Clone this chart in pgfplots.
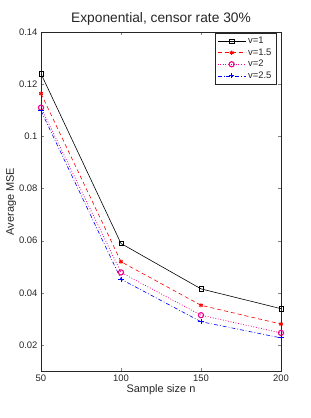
\documentclass[border=0pt]{standalone}
\usepackage{pgfplots}
\pgfplotsset{compat=1.18}
\usepackage{fontspec}
\setmainfont{Liberation Sans}
\begin{document}
\begin{tikzpicture}
\useasboundingbox (-41bp,-47bp) rectangle (270bp,371bp);
\begin{axis}[
  at={(0,0)}, anchor=south west,
  scale only axis, width=240bp, height=339bp,
  xmin=50, xmax=200, ymin=0.01, ymax=0.14,
  xtick={50,100,150,200},
  ytick={0.02,0.04,0.06,0.08,0.1,0.12,0.14},
  yticklabels={0.02,0.04,0.06,0.08,0.1,0.12,0.14},
  tick align=inside, tick pos=both,
  major tick length=3bp,
  /pgf/number format/assume math mode=true,
  tick label style={font=\fontsize{9.5}{11}\selectfont, text=black!85},
  xlabel={Sample size n}, ylabel={Average MSE},
  label style={font=\fontsize{11}{13}\selectfont, text=black!85},
  xlabel style={yshift=4bp},
  ylabel style={yshift=-4bp},
  title={Exponential, censor rate 30\%},
  title style={font=\fontsize{13.8}{16}\selectfont, text=black!85, yshift=-3bp},
  axis line style={black!85, line width=0.6pt},
  legend style={at={(0.98,0.997)}, anchor=north east, font=\fontsize{9.5}{11}\selectfont, draw=black!85, line width=0.5pt, inner xsep=2.5pt, inner ysep=2pt, row sep=-0.5pt, text=black!85},
  legend cell align=left,
  legend image code/.code={\draw[mark repeat=2,mark phase=2,#1] plot coordinates {(0bp,0bp) (14bp,0bp) (28bp,0bp)};},
]
\addplot[black, line width=0.6pt, mark=square, mark size=2.2pt, mark options={solid}] coordinates {(50,0.124) (100,0.0589) (150,0.0415) (200,0.0339)};
\addlegendentry{v=1}
\addplot[red, dash pattern=on 4bp off 3bp, line width=0.6pt, mark=asterisk, mark size=2.2pt, mark options={solid, line width=1pt}] coordinates {(50,0.1164) (100,0.0519) (150,0.0352) (200,0.0280)};
\addlegendentry{v=1.5}
\addplot[magenta, dash pattern=on 0.8bp off 1.8bp, line width=0.8pt, mark=o, mark size=2.6pt, mark options={solid, line width=1.1pt}] coordinates {(50,0.1110) (100,0.0478) (150,0.0314) (200,0.0246)};
\addlegendentry{v=2}
\addplot[blue, dash pattern=on 4bp off 2bp on 0.8bp off 2bp, line width=0.6pt, mark=+, mark size=2.6pt, mark options={solid, line width=0.9pt}] coordinates {(50,0.1098) (100,0.0452) (150,0.0289) (200,0.0227)};
\addlegendentry{v=2.5}
\end{axis}
\end{tikzpicture}
\end{document}
